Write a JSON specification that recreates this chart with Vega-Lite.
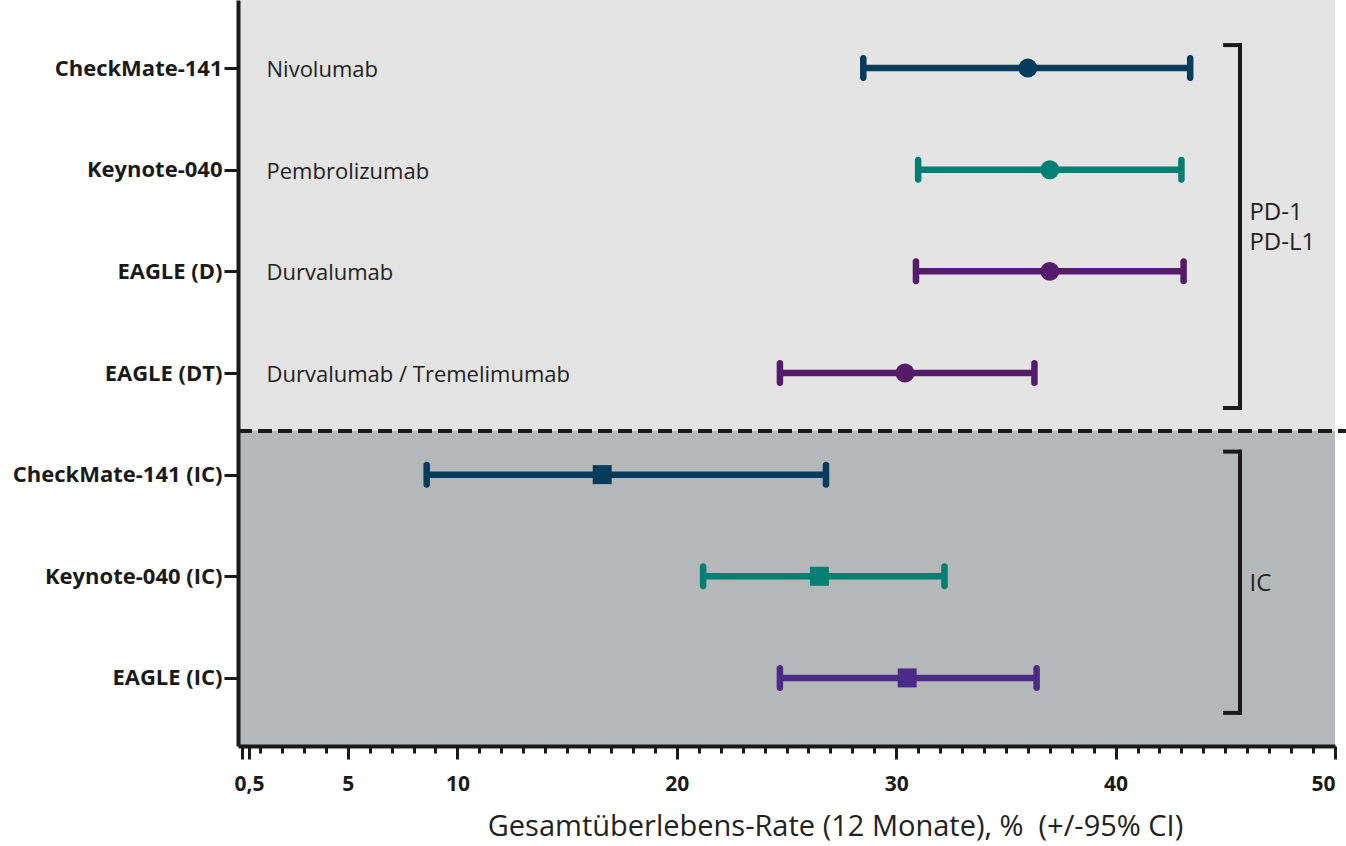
{
  "$schema": "https://vega.github.io/schema/vega-lite/v6.json",
  "width": 1097,
  "height": 746,
  "autosize": {"type": "none"},
  "padding": {"left": 238, "top": 0, "right": 11, "bottom": 100},
  "config": {"view": {"fill": "#b5b8b9", "stroke": null}, "font": "Open Sans"},
  "datasets": {
    "studies": [
      {"study": "CheckMate-141", "drug": "Nivolumab", "group": "PD-1 / PD-L1", "series": "CheckMate-141", "est": 36.0, "lo": 28.5, "hi": 43.4},
      {"study": "Keynote-040", "drug": "Pembrolizumab", "group": "PD-1 / PD-L1", "series": "Keynote-040", "est": 37.0, "lo": 31.0, "hi": 43.0},
      {"study": "EAGLE (D)", "drug": "Durvalumab", "group": "PD-1 / PD-L1", "series": "EAGLE", "est": 37.0, "lo": 30.9, "hi": 43.1},
      {"study": "EAGLE (DT)", "drug": "Durvalumab / Tremelimumab", "group": "PD-1 / PD-L1", "series": "EAGLE", "est": 30.4, "lo": 24.7, "hi": 36.3},
      {"study": "CheckMate-141 (IC)", "group": "IC", "series": "CheckMate-141", "est": 16.6, "lo": 8.6, "hi": 26.8},
      {"study": "Keynote-040 (IC)", "group": "IC", "series": "Keynote-040", "est": 26.5, "lo": 21.2, "hi": 32.2},
      {"study": "EAGLE (IC)", "group": "IC", "series": "EAGLE (IC)", "est": 30.5, "lo": 24.7, "hi": 36.4}
    ],
    "groups": [
      {"group": "PD-1 / PD-L1", "label": ["PD-1", "PD-L1"], "first": "CheckMate-141", "last": "EAGLE (DT)"},
      {"group": "IC", "label": ["IC"], "first": "CheckMate-141 (IC)", "last": "EAGLE (IC)"}
    ]
  },
  "resolve": {"axis": {"x": "independent", "y": "independent"}},
  "layer": [
    {
      "data": {"name": "groups"},
      "transform": [{"filter": "datum.group == 'PD-1 / PD-L1'"}],
      "mark": {"type": "rect", "fill": "#e4e4e4", "yOffset": -80, "y2Offset": 58, "clip": true},
      "encoding": {
        "x": {"datum": 0, "type": "quantitative", "scale": {"domain": [0, 50], "nice": false, "zero": false},
          "axis": {"orient": "bottom", "values": [0.2, 0.5, 5, 10, 20, 30, 40, 50],
            "labelExpr": "datum.value == 0.5 ? '0,5' : datum.value < 0.5 ? '' : format(datum.value, 'd')",
            "labelFontSize": 21, "labelFontWeight": "bold", "labelColor": "#1a1a1a", "labelPadding": 14,
            "tickSize": 13, "tickWidth": 3, "tickColor": "#1a1a1a", "domainWidth": 4, "domainColor": "#1a1a1a",
            "grid": false, "zindex": 2,
            "title": "Gesamtüberlebens-Rate (12 Monate), % \u00a0(+/-95% CI)",
            "titleFontSize": 29, "titleFontWeight": "normal", "titleColor": "#222222", "titlePadding": 18, "titleX": 597, "titleAlign": "center"}},
        "x2": {"datum": 50},
        "y": {"field": "first", "type": "nominal",
          "scale": {"type": "point", "domain": ["CheckMate-141", "Keynote-040", "EAGLE (D)", "EAGLE (DT)", "CheckMate-141 (IC)", "Keynote-040 (IC)", "EAGLE (IC)"], "padding": 0.67},
          "axis": {"orient": "left", "title": null, "labelFontSize": 22, "labelFontWeight": "bold", "labelColor": "#1a1a1a", "labelPadding": 2, "labelLimit": 400,
            "tickSize": 14, "tickWidth": 3, "tickColor": "#1a1a1a", "domainWidth": 4, "domainColor": "#1a1a1a", "grid": false, "zindex": 2}},
        "y2": {"field": "last"}
      }
    },
    {
      "data": {"name": "groups"},
      "transform": [{"filter": "datum.group == 'PD-1 / PD-L1'"}],
      "mark": {"type": "rule", "yOffset": 58, "strokeDash": [14, 6], "strokeWidth": 4, "color": "#1a1a1a"},
      "encoding": {
        "x": {"datum": 0, "type": "quantitative", "scale": {"domain": [0, 50], "nice": false, "zero": false}, "axis": null},
        "x2": {"datum": 50.5},
        "y": {"field": "last", "type": "nominal",
          "scale": {"type": "point", "domain": ["CheckMate-141", "Keynote-040", "EAGLE (D)", "EAGLE (DT)", "CheckMate-141 (IC)", "Keynote-040 (IC)", "EAGLE (IC)"], "padding": 0.67},
          "axis": null}
      }
    },
    {
      "data": {"name": "studies"},
      "transform": [{"filter": "datum.drug != null"}],
      "mark": {"type": "text", "align": "left", "baseline": "middle", "fontSize": 22, "color": "#222222", "dy": 2},
      "encoding": {
        "x": {"datum": 1.3, "type": "quantitative", "scale": {"domain": [0, 50], "nice": false, "zero": false}, "axis": null},
        "y": {"field": "study", "type": "nominal",
          "scale": {"type": "point", "domain": ["CheckMate-141", "Keynote-040", "EAGLE (D)", "EAGLE (DT)", "CheckMate-141 (IC)", "Keynote-040 (IC)", "EAGLE (IC)"], "padding": 0.67},
          "axis": null},
        "text": {"field": "drug"}
      }
    },
    {
      "data": {"name": "studies"},
      "mark": {"type": "rule", "strokeWidth": 6.5},
      "encoding": {
        "x": {"field": "lo", "type": "quantitative", "scale": {"domain": [0, 50], "nice": false, "zero": false},
          "axis": {"orient": "bottom", "values": [1, 2, 3, 4, 5, 6, 7, 8, 9, 10, 11, 12, 13, 14, 15, 16, 17, 18, 19, 20, 21, 22, 23, 24, 25, 26, 27, 28, 29, 30, 31, 32, 33, 34, 35, 36, 37, 38, 39, 40, 41, 42, 43, 44, 45, 46, 47, 48, 49],
            "labels": false, "domain": false, "grid": false, "tickSize": 7, "tickWidth": 3, "tickColor": "#1a1a1a", "title": null, "zindex": 2}},
        "x2": {"field": "hi"},
        "y": {"field": "study", "type": "nominal",
          "scale": {"type": "point", "domain": ["CheckMate-141", "Keynote-040", "EAGLE (D)", "EAGLE (DT)", "CheckMate-141 (IC)", "Keynote-040 (IC)", "EAGLE (IC)"], "padding": 0.67},
          "axis": null},
        "color": {"field": "series", "type": "nominal", "scale": {"domain": ["CheckMate-141", "Keynote-040", "EAGLE", "EAGLE (IC)"], "range": ["#063b5c", "#007f72", "#561a6a", "#4b2a88"]}, "legend": null}
      }
    },
    {
      "data": {"name": "studies"},
      "mark": {"type": "tick", "thickness": 6.5, "size": 26, "cornerRadius": 3, "opacity": 1},
      "encoding": {
        "x": {"field": "lo", "type": "quantitative", "scale": {"domain": [0, 50], "nice": false, "zero": false}, "axis": null},
        "y": {"field": "study", "type": "nominal",
          "scale": {"type": "point", "domain": ["CheckMate-141", "Keynote-040", "EAGLE (D)", "EAGLE (DT)", "CheckMate-141 (IC)", "Keynote-040 (IC)", "EAGLE (IC)"], "padding": 0.67},
          "axis": null},
        "color": {"field": "series", "type": "nominal", "scale": {"domain": ["CheckMate-141", "Keynote-040", "EAGLE", "EAGLE (IC)"], "range": ["#063b5c", "#007f72", "#561a6a", "#4b2a88"]}, "legend": null}
      }
    },
    {
      "data": {"name": "studies"},
      "mark": {"type": "tick", "thickness": 6.5, "size": 26, "cornerRadius": 3, "opacity": 1},
      "encoding": {
        "x": {"field": "hi", "type": "quantitative", "scale": {"domain": [0, 50], "nice": false, "zero": false}, "axis": null},
        "y": {"field": "study", "type": "nominal",
          "scale": {"type": "point", "domain": ["CheckMate-141", "Keynote-040", "EAGLE (D)", "EAGLE (DT)", "CheckMate-141 (IC)", "Keynote-040 (IC)", "EAGLE (IC)"], "padding": 0.67},
          "axis": null},
        "color": {"field": "series", "type": "nominal", "scale": {"domain": ["CheckMate-141", "Keynote-040", "EAGLE", "EAGLE (IC)"], "range": ["#063b5c", "#007f72", "#561a6a", "#4b2a88"]}, "legend": null}
      }
    },
    {
      "data": {"name": "studies"},
      "mark": {"type": "point", "filled": true, "opacity": 1, "size": 360},
      "encoding": {
        "x": {"field": "est", "type": "quantitative", "scale": {"domain": [0, 50], "nice": false, "zero": false}, "axis": null},
        "y": {"field": "study", "type": "nominal",
          "scale": {"type": "point", "domain": ["CheckMate-141", "Keynote-040", "EAGLE (D)", "EAGLE (DT)", "CheckMate-141 (IC)", "Keynote-040 (IC)", "EAGLE (IC)"], "padding": 0.67},
          "axis": null},
        "color": {"field": "series", "type": "nominal", "scale": {"domain": ["CheckMate-141", "Keynote-040", "EAGLE", "EAGLE (IC)"], "range": ["#063b5c", "#007f72", "#561a6a", "#4b2a88"]}, "legend": null},
        "shape": {"field": "group", "type": "nominal", "scale": {"domain": ["PD-1 / PD-L1", "IC"], "range": ["circle", "square"]}, "legend": null}
      }
    },
    {
      "data": {"name": "groups"},
      "mark": {"type": "rule", "strokeWidth": 4, "color": "#1a1a1a", "yOffset": -23, "y2Offset": 35, "strokeCap": "square"},
      "encoding": {
        "x": {"datum": 45.67, "type": "quantitative", "scale": {"domain": [0, 50], "nice": false, "zero": false}, "axis": null},
        "y": {"field": "first", "type": "nominal",
          "scale": {"type": "point", "domain": ["CheckMate-141", "Keynote-040", "EAGLE (D)", "EAGLE (DT)", "CheckMate-141 (IC)", "Keynote-040 (IC)", "EAGLE (IC)"], "padding": 0.67},
          "axis": null},
        "y2": {"field": "last"}
      }
    },
    {
      "data": {"name": "groups"},
      "mark": {"type": "rule", "strokeWidth": 4, "color": "#1a1a1a", "yOffset": -23},
      "encoding": {
        "x": {"datum": 44.9, "type": "quantitative", "scale": {"domain": [0, 50], "nice": false, "zero": false}, "axis": null},
        "x2": {"datum": 45.75},
        "y": {"field": "first", "type": "nominal",
          "scale": {"type": "point", "domain": ["CheckMate-141", "Keynote-040", "EAGLE (D)", "EAGLE (DT)", "CheckMate-141 (IC)", "Keynote-040 (IC)", "EAGLE (IC)"], "padding": 0.67},
          "axis": null}
      }
    },
    {
      "data": {"name": "groups"},
      "mark": {"type": "rule", "strokeWidth": 4, "color": "#1a1a1a", "yOffset": 35},
      "encoding": {
        "x": {"datum": 44.9, "type": "quantitative", "scale": {"domain": [0, 50], "nice": false, "zero": false}, "axis": null},
        "x2": {"datum": 45.75},
        "y": {"field": "last", "type": "nominal",
          "scale": {"type": "point", "domain": ["CheckMate-141", "Keynote-040", "EAGLE (D)", "EAGLE (DT)", "CheckMate-141 (IC)", "Keynote-040 (IC)", "EAGLE (IC)"], "padding": 0.67},
          "axis": null}
      }
    },
    {
      "data": {"name": "groups"},
      "transform": [{"filter": "datum.group == 'PD-1 / PD-L1'"}],
      "mark": {"type": "text", "align": "left", "baseline": "alphabetic", "fontSize": 24, "lineHeight": 30, "color": "#222222", "dy": 152},
      "encoding": {
        "x": {"datum": 46.1, "type": "quantitative", "scale": {"domain": [0, 50], "nice": false, "zero": false}, "axis": null},
        "y": {"field": "first", "type": "nominal",
          "scale": {"type": "point", "domain": ["CheckMate-141", "Keynote-040", "EAGLE (D)", "EAGLE (DT)", "CheckMate-141 (IC)", "Keynote-040 (IC)", "EAGLE (IC)"], "padding": 0.67},
          "axis": null},
        "text": {"field": "label"}
      }
    },
    {
      "data": {"name": "groups"},
      "transform": [{"filter": "datum.group == 'IC'"}],
      "mark": {"type": "text", "align": "left", "baseline": "alphabetic", "fontSize": 24, "lineHeight": 30, "color": "#222222", "dy": 116},
      "encoding": {
        "x": {"datum": 46.1, "type": "quantitative", "scale": {"domain": [0, 50], "nice": false, "zero": false}, "axis": null},
        "y": {"field": "first", "type": "nominal",
          "scale": {"type": "point", "domain": ["CheckMate-141", "Keynote-040", "EAGLE (D)", "EAGLE (DT)", "CheckMate-141 (IC)", "Keynote-040 (IC)", "EAGLE (IC)"], "padding": 0.67},
          "axis": null},
        "text": {"field": "label"}
      }
    }
  ]
}
